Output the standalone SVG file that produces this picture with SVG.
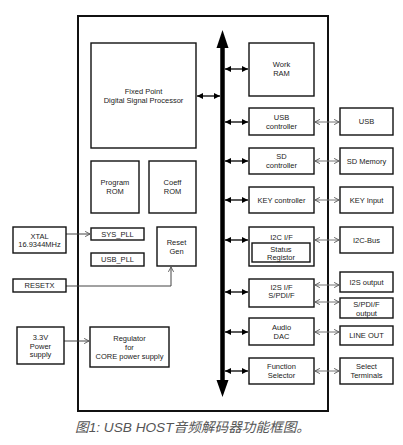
<svg xmlns="http://www.w3.org/2000/svg" width="403" height="445" viewBox="0 0 403 445">
<style>
.b{fill:#fff;stroke:#111;stroke-width:1.4}
.t{font-family:"Liberation Sans",Arial,sans-serif;font-size:7.5px;fill:#222;text-anchor:middle;dominant-baseline:central}
.bus{stroke:#000;stroke-width:1.3;fill:none;marker-start:url(#fa);marker-end:url(#fa)}
.ext{stroke:#777;stroke-width:1;fill:none;marker-start:url(#oa);marker-end:url(#oa)}
.sig{stroke:#444;stroke-width:1;fill:none;marker-end:url(#oa)}
</style>
<defs>
<marker id="fa" viewBox="0 0 8 8" refX="8" refY="4" markerWidth="6" markerHeight="6" markerUnits="userSpaceOnUse" orient="auto-start-reverse">
<path d="M0,0L8,4L0,8z" fill="#000"/>
</marker>
<marker id="oa" viewBox="0 0 8 8" refX="7.5" refY="4" markerWidth="6" markerHeight="6" markerUnits="userSpaceOnUse" orient="auto-start-reverse">
<path d="M1,0.5L7.5,4L1,7.5" fill="none" stroke="#555" stroke-width="1.2"/>
</marker>
</defs>
<rect width="403" height="445" fill="#fff"/>
<g id="chip"><rect x="78" y="16" width="250" height="395" fill="none" stroke="#111" stroke-width="2"/></g>
<g id="connectors">
<line x1="222.5" y1="46" x2="222.5" y2="382" stroke="#000" stroke-width="4.5"/>
<polygon points="216.5,48 222.5,30 228.5,48" fill="#000"/>
<polygon points="216.5,380 222.5,397 228.5,380" fill="#000"/>
<line class="bus" x1="197" y1="96" x2="220" y2="96"/>
<line class="bus" x1="225" y1="69" x2="248" y2="69"/>
<line class="bus" x1="225" y1="122" x2="248" y2="122"/>
<line class="bus" x1="225" y1="161" x2="248" y2="161"/>
<line class="bus" x1="225" y1="200" x2="248" y2="200"/>
<line class="bus" x1="225" y1="240" x2="248" y2="240"/>
<line class="bus" x1="225" y1="292" x2="248" y2="292"/>
<line class="bus" x1="225" y1="332" x2="248" y2="332"/>
<line class="bus" x1="225" y1="371" x2="248" y2="371"/>
<line class="ext" x1="315" y1="122" x2="339" y2="122"/>
<line class="ext" x1="315" y1="161" x2="339" y2="161"/>
<line class="ext" x1="315" y1="200" x2="339" y2="200"/>
<line class="ext" x1="315" y1="240" x2="339" y2="240"/>
<line class="ext" x1="315" y1="285" x2="339" y2="285"/>
<line class="ext" x1="315" y1="302" x2="339" y2="302"/>
<line class="ext" x1="315" y1="332" x2="339" y2="332"/>
<line class="ext" x1="315" y1="371" x2="339" y2="371"/>
<line class="sig" x1="66" y1="234" x2="90" y2="234"/>
<polyline class="sig" points="66,286 171,286 171,267"/>
<line class="sig" x1="64" y1="341" x2="89" y2="341"/>
</g>
<g id="dsp"><rect class="b" x="91" y="43" width="105" height="105"/><text class="t" x="143.5" y="91">Fixed Point</text><text class="t" x="143.5" y="100">Digital Signal Processor</text></g>
<g id="prog-rom"><rect class="b" x="91" y="161" width="48" height="52"/><text class="t" x="115" y="182.5">Program</text><text class="t" x="115" y="191.5">ROM</text></g>
<g id="coeff-rom"><rect class="b" x="149" y="161" width="47" height="52"/><text class="t" x="172.5" y="182.5">Coeff</text><text class="t" x="172.5" y="191.5">ROM</text></g>
<g id="sys-pll"><rect class="b" x="91" y="228" width="53" height="12"/><text class="t" x="117.5" y="234">SYS_PLL</text></g>
<g id="usb-pll"><rect class="b" x="91" y="253" width="53" height="13"/><text class="t" x="117.5" y="259.5">USB_PLL</text></g>
<g id="reset-gen"><rect class="b" x="157" y="227" width="39" height="39"/><text class="t" x="176.5" y="242">Reset</text><text class="t" x="176.5" y="251">Gen</text></g>
<g id="regulator"><rect class="b" x="90" y="327" width="79" height="40"/><text class="t" x="129.5" y="338">Regulator</text><text class="t" x="129.5" y="347">for</text><text class="t" x="129.5" y="356">CORE power supply</text></g>
<g id="work-ram"><rect class="b" x="249" y="43" width="65" height="53"/><text class="t" x="281.5" y="64.5">Work</text><text class="t" x="281.5" y="73.5">RAM</text></g>
<g id="usb-ctrl"><rect class="b" x="249" y="108" width="65" height="27"/><text class="t" x="281.5" y="117">USB</text><text class="t" x="281.5" y="126">controller</text></g>
<g id="sd-ctrl"><rect class="b" x="249" y="148" width="65" height="26"/><text class="t" x="281.5" y="156.5">SD</text><text class="t" x="281.5" y="165.5">controller</text></g>
<g id="key-ctrl"><rect class="b" x="249" y="187" width="65" height="26"/><text class="t" x="281.5" y="200">KEY controller</text></g>
<g id="i2c-if"><rect class="b" x="249" y="227" width="65" height="39"/><text class="t" x="281.5" y="237">I2C I/F</text><rect class="b" x="252" y="243" width="58" height="19"/><text class="t" x="281" y="249">Status</text><text class="t" x="281" y="257">Registor</text></g>
<g id="i2s-if"><rect class="b" x="249" y="279" width="65" height="28"/><text class="t" x="281.5" y="287.5">I2S I/F</text><text class="t" x="281.5" y="295.5">S/PDI/F</text></g>
<g id="audio-dac"><rect class="b" x="249" y="318" width="65" height="27"/><text class="t" x="281.5" y="327">Audio</text><text class="t" x="281.5" y="336">DAC</text></g>
<g id="func-sel"><rect class="b" x="249" y="358" width="65" height="26"/><text class="t" x="281.5" y="366.5">Function</text><text class="t" x="281.5" y="375">Selector</text></g>
<g id="usb"><rect class="b" x="340" y="108" width="53" height="27"/><text class="t" x="366.5" y="121.5">USB</text></g>
<g id="sd-memory"><rect class="b" x="340" y="148" width="53" height="26"/><text class="t" x="366.5" y="161">SD Memory</text></g>
<g id="key-input"><rect class="b" x="340" y="187" width="53" height="26"/><text class="t" x="366.5" y="200">KEY Input</text></g>
<g id="i2c-bus"><rect class="b" x="340" y="227" width="53" height="26"/><text class="t" x="366.5" y="240">I2C-Bus</text></g>
<g id="i2s-output"><rect class="b" x="340" y="272" width="53" height="20"/><text class="t" x="366.5" y="282">I2S output</text></g>
<g id="spdif-output"><rect class="b" x="340" y="298" width="53" height="20"/><text class="t" x="366.5" y="304">S/PDI/F</text><text class="t" x="366.5" y="313">output</text></g>
<g id="line-out"><rect class="b" x="340" y="326" width="53" height="19"/><text class="t" x="366.5" y="335.5">LINE OUT</text></g>
<g id="select-terminals"><rect class="b" x="340" y="358" width="53" height="26"/><text class="t" x="366.5" y="366.5">Select</text><text class="t" x="366.5" y="375">Terminals</text></g>
<g id="xtal"><rect class="b" x="13" y="227" width="53" height="26"/><text class="t" x="39.5" y="236">XTAL</text><text class="t" x="39.5" y="244.5">16.9344MHz</text></g>
<g id="resetx"><rect class="b" x="13" y="279" width="53" height="13"/><text class="t" x="39.5" y="285.5">RESETX</text></g>
<g id="power"><rect class="b" x="17" y="327" width="47" height="37"/><text class="t" x="40.5" y="337.5">3.3V</text><text class="t" x="40.5" y="346">Power</text><text class="t" x="40.5" y="354.5">supply</text></g>
<text x="75" y="432" font-family="Liberation Sans,'Noto Sans CJK SC',sans-serif" font-size="13.5" font-style="italic" fill="#555" textLength="235" lengthAdjust="spacingAndGlyphs">图1: USB HOST音频解码器功能框图。</text>
</svg>
